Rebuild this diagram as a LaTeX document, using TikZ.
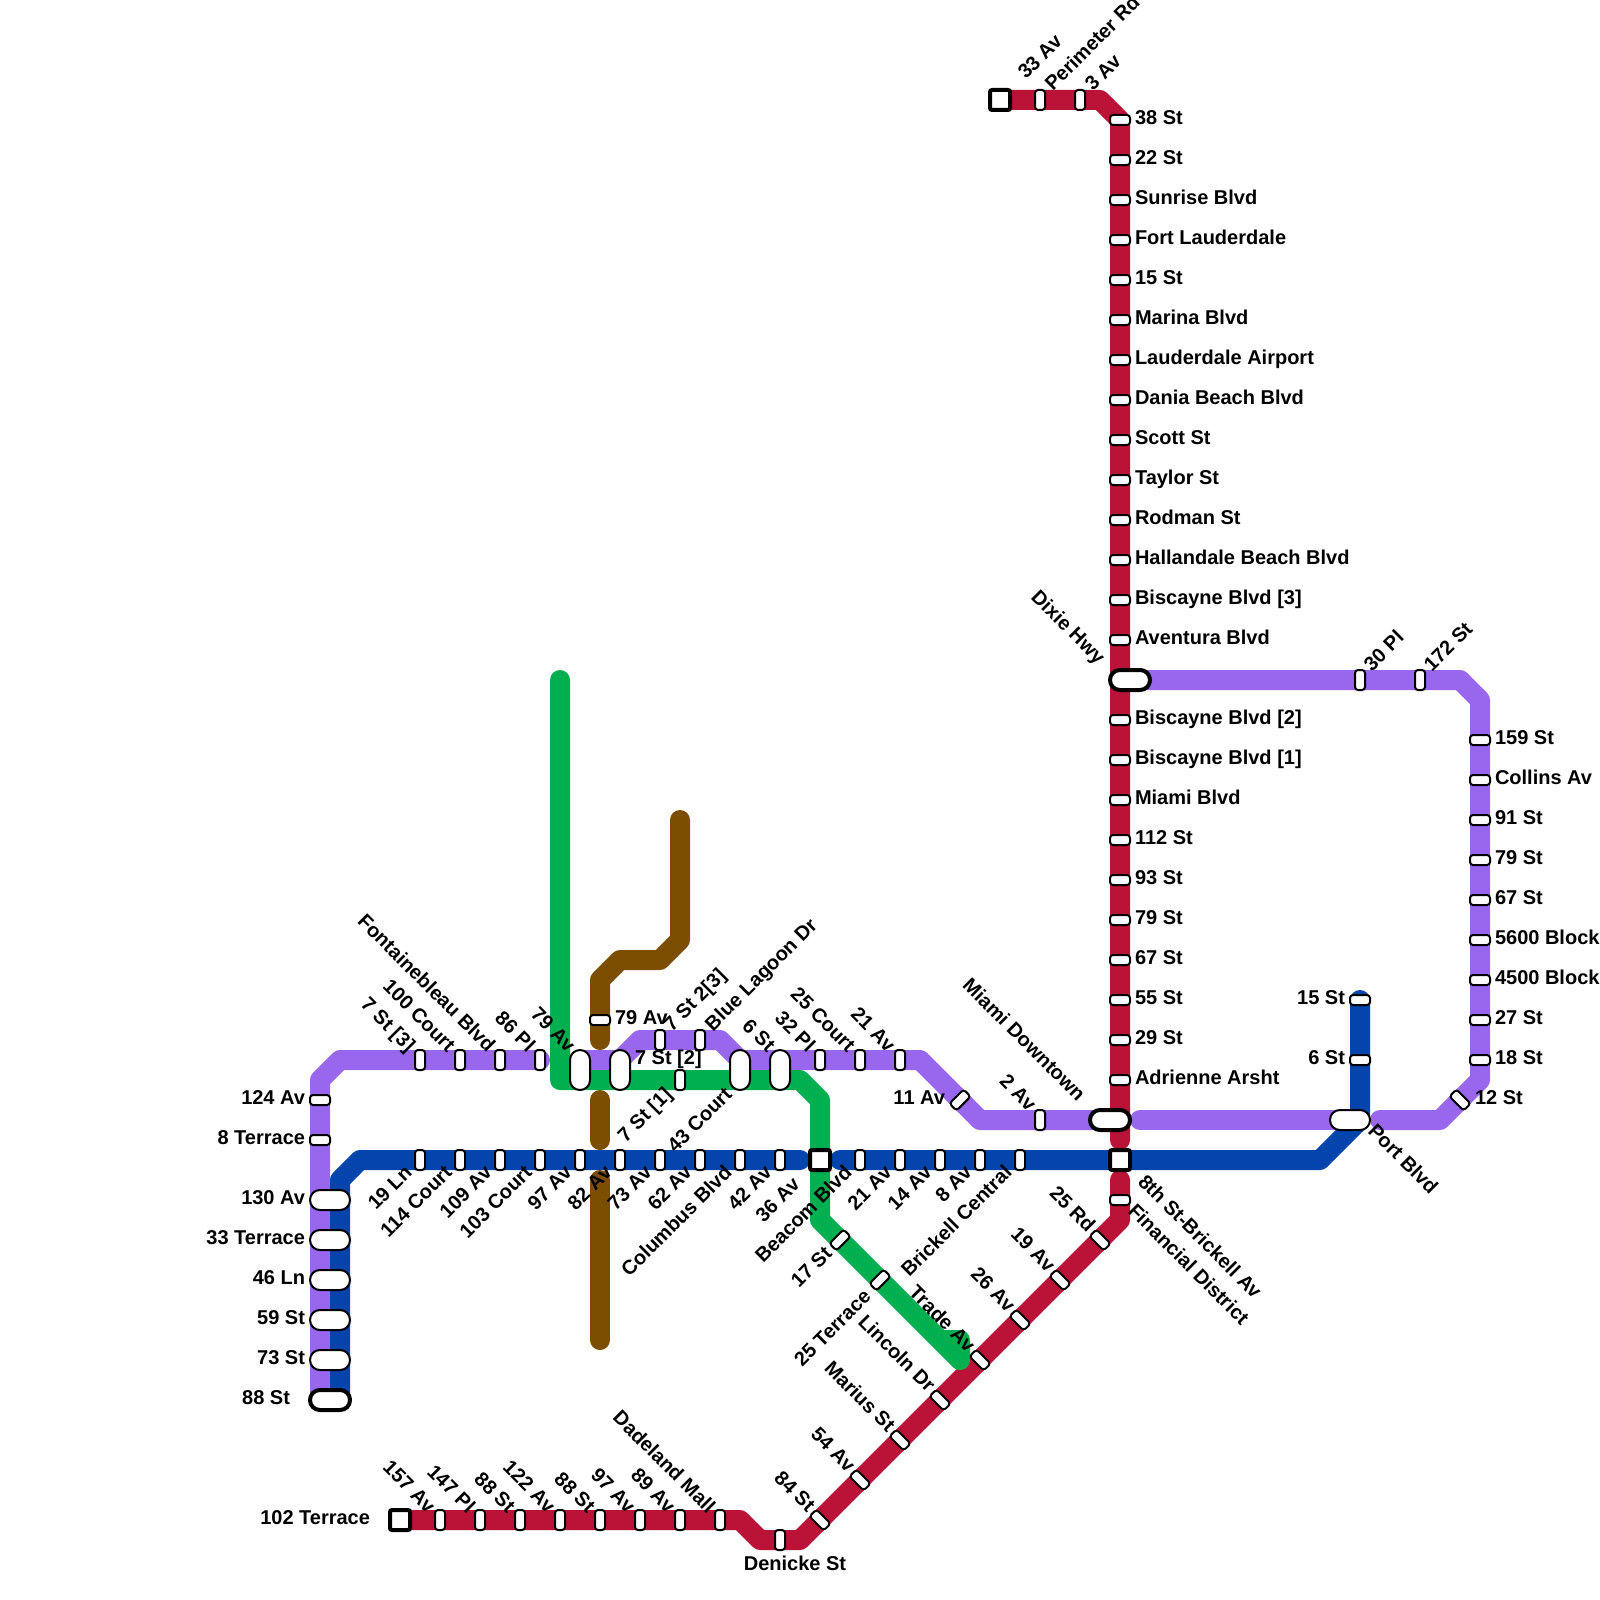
\documentclass[tikz,border=0pt]{standalone}
\usepackage{fontspec}
\setmainfont{Liberation Sans}
\pgfdeclarelayer{lines}
\pgfsetlayers{lines,main}
\tikzset{
  x=1pt,y=-1pt,
  metro/.style={line width=20pt,line cap=round,line join=round},
  purple/.style={metro,draw=lpurple},
  blue/.style={metro,draw=lblue},
  red/.style={metro,draw=lred},
  green/.style={metro,draw=lgreen},
  brown/.style={metro,draw=lbrown},
  stn/.style={draw=black,fill=white,line width=2pt,rounded corners=3pt,inner sep=0pt,outer sep=0pt},
  stv/.style={stn,minimum width=10pt,minimum height=20pt},
  sth/.style={stn,minimum width=20pt,minimum height=10pt},
  pillv/.style={stn,rounded corners=9.9pt,minimum width=20pt,minimum height=40pt},
  pillh/.style={stn,rounded corners=9.9pt,minimum width=40pt,minimum height=20pt},
  thickpill/.style={pillh,line width=4pt},
  term/.style={stn,line width=4pt,rounded corners=2pt,minimum width=20pt,minimum height=20pt},
  lbl/.style={font=\fontsize{20}{24}\selectfont\bfseries,inner sep=0pt,outer sep=0pt,text=black},
  lr/.style={lbl,anchor=base west},
  ll/.style={lbl,anchor=base east},
  lul/.style={lbl,anchor=base east,rotate=-45},
  lbl45/.style={lbl,anchor=base east,rotate=45},
  lur/.style={lbl,anchor=base west,rotate=45},
  ldr/.style={lbl,anchor=base west,rotate=-45},
}
\definecolor{lpurple}{HTML}{9966EE}
\definecolor{lblue}{HTML}{0345AD}
\definecolor{lred}{HTML}{BB1238}
\definecolor{lgreen}{HTML}{00B050}
\definecolor{lbrown}{HTML}{7B4E02}
\begin{document}
\begin{tikzpicture}
\useasboundingbox (0,0) rectangle (1600,1600);
% ---- red: top
\node[term] (rT) at (1000,100) {};
\foreach \x/\t [count=\i] in {1040/Perimeter Rd,1080/3 Av}{
  \node[stv] (rt\i) at (\x,100) {};
  \node[lur] (lrt\i) at (\x+13,92) {\t};
}
\node[lur] (lrT) at (1026,80) {33 Av};
\foreach \y/\t in {120/38 St,160/22 St,200/Sunrise Blvd,240/Fort Lauderdale,280/15 St,320/Marina Blvd,360/Lauderdale Airport,400/Dania Beach Blvd,440/Scott St,480/Taylor St,520/Rodman St,560/Hallandale Beach Blvd,600/Biscayne Blvd [3],640/Aventura Blvd,720/Biscayne Blvd [2],760/Biscayne Blvd [1],800/Miami Blvd,840/112 St,880/93 St,920/79 St,960/67 St,1000/55 St,1040/29 St,1080/Adrienne Arsht}{
  \node[sth] (rs\y) at (1120,\y) {};
  \node[lr] (lrs\y) at (1135,\y+4.6) {\t};
}
\node[thickpill] (dixie) at (1130,680) {};
\node[lul] (ldixie) at (1097,665) {Dixie Hwy};
\node[thickpill] (miamid) at (1110,1120) {};
\node[lul] (lmiamid) at (1077,1102) {Miami Downtown};
\node[term] (brickell) at (1120,1160) {};
\node[ldr] (lbrickell) at (1137,1183) {8th St-Brickell Av};
\node[sth] (fin) at (1120,1200) {};
\node[ldr] (lfin) at (1127,1212) {Financial District};
% ---- red: diagonal
\foreach \x/\y/\t [count=\i] in {1100/1240/25 Rd,1060/1280/19 Av,1020/1320/26 Av,980/1360/Trade Av,940/1400/Lincoln Dr,900/1440/Marius St,860/1480/54 Av,820/1520/84 St}{
  \node[sth,rotate=-45] (rd\i) at (\x,\y) {};
  \node[lul] (lrd\i) at (\x-13,\y-7) {\t};
}
\node[stv] (den) at (780,1540) {};
\node[lbl,anchor=base] (lden) at (795,1570) {Denicke St};
\foreach \x/\t [count=\i] in {440/157 Av,480/147 Pl,520/88 St,560/122 Av,600/88 St,640/97 Av,680/89 Av,720/Dadeland Mall}{
  \node[stv] (rb\i) at (\x,1520) {};
  \node[lul] (lrb\i) at (\x-13,1514) {\t};
}
\node[term] (rB) at (400,1520) {};
\node[ll] (lrB) at (370,1524.6) {102 Terrace};
% ---- purple left
\foreach \y/\t in {1100/124 Av,1140/8 Terrace}{
  \node[sth] (ps\y) at (320,\y) {};
  \node[ll] (lps\y) at (305,\y+4.6) {\t};
}
\foreach \y/\t in {1200/130 Av,1240/33 Terrace,1280/46 Ln,1320/59 St,1360/73 St}{
  \node[pillh] (pp\y) at (330,\y) {};
  \node[ll] (lpp\y) at (305,\y+4.6) {\t};
}
\node[thickpill] (pb) at (330,1400) {};
\node[ll] (lpb) at (290,1404.6) {88 St};
\foreach \x/\t in {420/7 St [3],460/100 Court,500/Fontainebleau Blvd,540/86 Pl}{
  \node[stv] (pt\x) at (\x,1060) {};
  \node[lul] (lpt\x) at (\x-13,1053) {\t};
}
\node[pillv] (p580) at (580,1070) {};
\node[lul] (lp580) at (567,1053) {79 Av};
\node[pillv] (p620) at (620,1070) {};
\node[lbl,anchor=base west] (lp620) at (635,1064) {7 St [2]};
\node[stv] (b660) at (660,1040) {};
\node[lur] (lb660) at (672,1032) {7 St 2[3]};
\node[stv] (b700) at (700,1040) {};
\node[lur] (lb700) at (713,1032) {Blue Lagoon Dr};
\node[stv] (g680) at (680,1080) {};
\node[lbl45] (lg680) at (673,1096) {7 St [1]};
\node[pillv] (p740) at (740,1070) {};
\node[lbl45] (lp740) at (733,1096) {43 Court};
\node[pillv] (p780) at (780,1070) {};
\node[lul] (lp780) at (767,1053) {6 St};
\foreach \x/\t in {820/32 Pl,860/25 Court,900/21 Av}{
  \node[stv] (pu\x) at (\x,1060) {};
  \node[lul] (lpu\x) at (\x-13,1053) {\t};
}
\node[sth,rotate=45] (p11) at (960,1100) {};
\node[ll] (lp11) at (945,1104.6) {11 Av};
\node[stv] (p2) at (1040,1120) {};
\node[lul] (lp2) at (1028,1112) {2 Av};
\node[pillh] (port) at (1350,1120) {};
\node[ldr] (lport) at (1367,1132) {Port Blvd};
\foreach \x/\t in {1360/30 Pl,1420/172 St}{
  \node[stv] (pr\x) at (\x,680) {};
  \node[lur] (lpr\x) at (\x+12,672) {\t};
}
\foreach \y/\t in {740/159 St,780/Collins Av,820/91 St,860/79 St,900/67 St,940/5600 Block,980/4500 Block,1020/27 St,1060/18 St}{
  \node[sth] (pe\y) at (1480,\y) {};
  \node[lr] (lpe\y) at (1495,\y+4.6) {\t};
}
\node[sth,rotate=-45] (p12) at (1460,1100) {};
\node[lr] (lp12) at (1475,1104.6) {12 St};
% ---- blue
\foreach \x/\t in {420/19 Ln,460/114 Court,500/109 Av,540/103 Court,580/97 Av,620/82 Av,660/73 Av,700/62 Av,740/Columbus Blvd,780/42 Av,860/Beacom Blvd,900/21 Av,940/14 Av,980/8 Av,1020/Brickell Central}{
  \node[stv] (bs\x) at (\x,1160) {};
  \node[lbl45] (lbs\x) at (\x-7,1174) {\t};
}
\node[term] (bT) at (820,1160) {};
\node[lbl45] (lbT) at (801,1186) {36 Av};
\node[sth] (b15) at (1360,1000) {};
\node[ll] (lb15) at (1345,1004.6) {15 St};
\node[sth] (b6) at (1360,1060) {};
\node[ll] (lb6) at (1345,1064.6) {6 St};
% ---- green
\node[sth,rotate=45] (g1) at (840,1240) {};
\node[lbl45] (lg1) at (833,1255) {17 St};
\node[sth,rotate=45] (g2) at (880,1280) {};
\node[lbl45] (lg2) at (872,1298) {25 Terrace};
% ---- brown
\node[sth] (br79) at (600,1020) {};
\node[lr] (lbr79) at (615,1024) {79 Av};
% ---- line vertices
\coordinate (c1) at (1100,100);
\coordinate (c2) at (1120,120);
\coordinate (c3) at (1120,1140);
\coordinate (c4) at (1120,1180);
\coordinate (c5) at (1120,1220);
\coordinate (c6) at (800,1540);
\coordinate (c7) at (760,1540);
\coordinate (c8) at (740,1520);
\coordinate (d1) at (320,1400);
\coordinate (d2) at (320,1080);
\coordinate (d3) at (340,1060);
\coordinate (d4) at (580,1060);
\coordinate (d5) at (620,1060);
\coordinate (d6) at (640,1040);
\coordinate (d7) at (720,1040);
\coordinate (d8) at (740,1060);
\coordinate (d9) at (920,1060);
\coordinate (d10) at (980,1120);
\coordinate (d11) at (1100,1120);
\coordinate (d12) at (1140,1120);
\coordinate (d13) at (1340,1120);
\coordinate (d14) at (1380,1120);
\coordinate (d15) at (1440,1120);
\coordinate (d16) at (1480,1080);
\coordinate (d17) at (1480,700);
\coordinate (d18) at (1460,680);
\coordinate (e1) at (340,1400);
\coordinate (e2) at (340,1180);
\coordinate (e3) at (360,1160);
\coordinate (e4) at (800,1160);
\coordinate (e5) at (840,1160);
\coordinate (e6) at (1320,1160);
\coordinate (e7) at (1360,1120);
\coordinate (f1) at (560,680);
\coordinate (f2) at (560,1080);
\coordinate (f3) at (800,1080);
\coordinate (f4) at (820,1100);
\coordinate (f5) at (820,1220);
\coordinate (f6) at (960,1360);
\coordinate (f7) at (960,1340);
\coordinate (f8) at (940,1340);
\coordinate (h1) at (680,820);
\coordinate (h2) at (680,940);
\coordinate (h3) at (660,960);
\coordinate (h4) at (620,960);
\coordinate (h5) at (600,980);
\coordinate (h6) at (600,1040);
\coordinate (h7) at (600,1100);
\coordinate (h8) at (600,1140);
\coordinate (h9) at (600,1180);
\coordinate (h10) at (600,1340);
\begin{pgfonlayer}{lines}
\draw[red] (rT.center) -- (c1) -- (c2) -- (c3);
\draw[red] (c4) -- (c5) -- (c6) -- (c7) -- (c8) -- (rB.center);
\draw[purple] (d1) -- (d2) -- (d3) -- (pt540.center);
\draw[purple] (d4) -- (d5) -- (d6) -- (d7) -- (d8) -- (d9) -- (d10) -- (d11);
\draw[purple] (d12) -- (d13);
\draw[purple] (d14) -- (d15) -- (d16) -- (d17) -- (d18) -- (dixie.center);
\draw[blue] (e1) -- (e2) -- (e3) -- (e4);
\draw[blue] (e5) -- (e6) -- (e7) -- (b15.center);
\draw[brown] (h1) -- (h2) -- (h3) -- (h4) -- (h5) -- (h6);
\draw[brown] (h7) -- (h8);
\draw[brown] (h9) -- (h10);
\draw[green] (f1) -- (f2) -- (f3) -- (f4) -- (f5) -- (f6) -- (f7) -- (f8);
\end{pgfonlayer}
\end{tikzpicture}
\end{document}
